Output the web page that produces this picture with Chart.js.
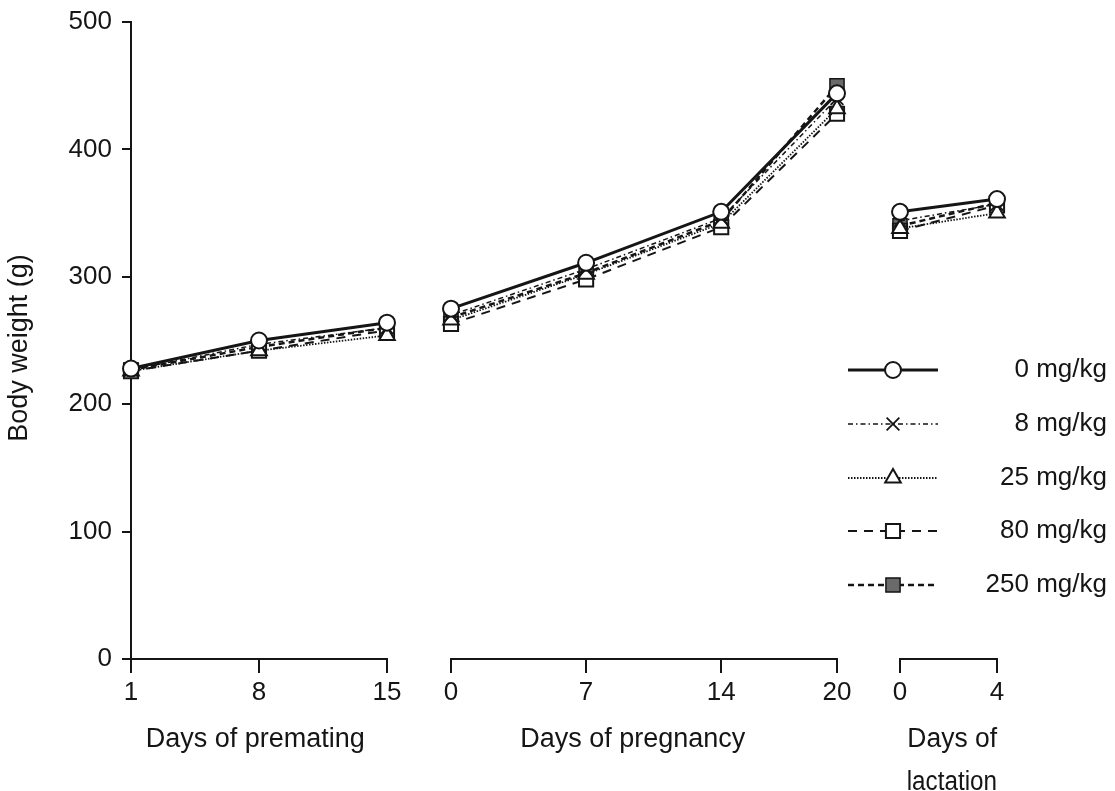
<!DOCTYPE html>
<html>
<head>
<meta charset="utf-8">
<script src="https://cdn.jsdelivr.net/npm/chart.js@4.4.1/dist/chart.umd.min.js"></script>
<style>
  html, body { margin: 0; padding: 0; background: #fff; }
  canvas { display: block; }
</style>
</head>
<body>
<canvas id="c" width="1115" height="791"></canvas>
<script>
// ---- data ----
const prematingDays = [1, 8, 15];
const pregnancyDays = [0, 7, 14, 20];
const lactationDays = [0, 4];
const yTicks = [0, 100, 200, 300, 400, 500];
const doseLabels = ['0 mg/kg', '8 mg/kg', '25 mg/kg', '80 mg/kg', '250 mg/kg'];
// body weight (g): premating d1,8,15 | pregnancy d0,7,14,20 | lactation d0,4
const bw0   = [228, 250, 264, 275, 311, 351, 444, 351, 361];
const bw8   = [227, 247, 260, 270, 306, 346, 440, 344, 357];
const bw25  = [226, 242, 254, 266, 302, 342, 432, 338, 350];
const bw80  = [226, 242, 258, 263, 298, 339, 428, 336, 356];
const bw250 = [227, 245, 260, 268, 303, 344, 450, 340, 358];
const yTitle = 'Body weight (g)';
const prematingTitle = 'Days of premating';
const pregnancyTitle = 'Days of pregnancy';
const lactationTitle = ['Days of', 'lactation'];

// ---- styles ----
const FONT = "'Liberation Sans', Arial, Helvetica, sans-serif";
const INK = '#151515';
const styles = [
  { dash: [], width: 3, point: 'circle', radius: 8, fill: '#ffffff', pbw: 2 },
  { dash: [5, 3, 1.5, 3], width: 1.5, point: 'crossRot', radius: 9, fill: INK, pbw: 1.8 },
  { dash: [1.5, 1.5], width: 1.8, point: 'triangle', radius: 9, fill: '#ffffff', pbw: 2 },
  { dash: [9, 7], width: 2, point: 'rect', radius: 10, fill: '#ffffff', pbw: 2 },
  { dash: [6, 4], width: 2.5, point: 'rect', radius: 10, fill: '#6a6a6a', pbw: 1.5 }
];

const series = [bw0, bw8, bw25, bw80, bw250];
const segments = [
  { id: 'xPre', days: prematingDays, start: 0 },
  { id: 'xPreg', days: pregnancyDays, start: prematingDays.length },
  { id: 'xLac', days: lactationDays, start: prematingDays.length + pregnancyDays.length }
];

const datasets = [];
series.forEach((vals, i) => {
  const s = styles[i];
  segments.forEach(seg => {
    datasets.push({
      label: doseLabels[i],
      xAxisID: seg.id,
      yAxisID: 'y',
      data: seg.days.map((d, k) => ({ x: d, y: vals[seg.start + k] })),
      borderColor: INK,
      borderWidth: s.width,
      borderDash: s.dash,
      pointStyle: s.point,
      pointRadius: s.radius,
      pointHoverRadius: s.radius,
      pointBackgroundColor: s.fill,
      pointBorderColor: INK,
      pointBorderWidth: s.pbw,
      tension: 0,
      fill: false,
      clip: false
    });
  });
});

const X_BOX_H = 132;
const TITLE_SIZE = 27;
const TITLE_LH = 43;
function xAxis(min, max, weight, days, title, padBottom) {
  return {
    type: 'linear', position: 'bottom', stack: 'xs', stackWeight: weight,
    min: min, max: max,
    afterBuildTicks: sc => { sc.ticks = days.map(v => ({ value: v })); },
    afterFit: sc => { sc.height = X_BOX_H; sc.paddingLeft = 0; sc.paddingRight = 0; },
    grid: { display: true, drawOnChartArea: false, drawTicks: true, tickLength: 14, color: INK, lineWidth: 2 },
    border: { display: true, color: INK, width: 2 },
    ticks: { font: { family: FONT, size: 26 }, color: INK, padding: 4, maxRotation: 0, autoSkip: false },
    title: { display: true, text: title, font: { family: FONT, size: TITLE_SIZE, lineHeight: TITLE_LH / TITLE_SIZE }, color: INK,
             padding: { top: 0, bottom: padBottom } }
  };
}
function spacer(weight) {
  return {
    type: 'linear', position: 'bottom', stack: 'xs', stackWeight: weight, min: 0, max: 1,
    grid: { display: false }, border: { display: false }, ticks: { display: false }, title: { display: false },
    afterFit: sc => { sc.height = X_BOX_H; sc.paddingLeft = 0; sc.paddingRight = 0; }
  };
}

function drawMarker(ctx, style, x, y, r) {
  ctx.beginPath();
  if (style === 'circle') {
    ctx.arc(x, y, r, 0, Math.PI * 2);
    ctx.fill(); ctx.stroke();
  } else if (style === 'rect') {
    const h = r * Math.SQRT1_2;
    ctx.rect(x - h, y - h, 2 * h, 2 * h);
    ctx.fill(); ctx.stroke();
  } else if (style === 'triangle') {
    for (let k = 0; k < 3; k++) {
      const a = k * 2 * Math.PI / 3;
      const px = x + Math.sin(a) * r, py = y - Math.cos(a) * r;
      if (k === 0) ctx.moveTo(px, py); else ctx.lineTo(px, py);
    }
    ctx.closePath();
    ctx.fill(); ctx.stroke();
  } else if (style === 'crossRot') {
    const h = r * Math.SQRT1_2;
    ctx.moveTo(x - h, y - h); ctx.lineTo(x + h, y + h);
    ctx.moveTo(x - h, y + h); ctx.lineTo(x + h, y - h);
    ctx.stroke();
  }
}

const legendPlugin = {
  id: 'doseLegend',
  afterDraw(chart) {
    const ctx = chart.ctx;
    const rows = [370, 424, 478, 531, 585];
    styles.forEach((s, i) => {
      const y = rows[i];
      ctx.save();
      ctx.strokeStyle = INK;
      ctx.lineWidth = s.width;
      ctx.setLineDash(s.dash);
      ctx.beginPath(); ctx.moveTo(848, y); ctx.lineTo(938, y); ctx.stroke();
      ctx.setLineDash([]);
      ctx.fillStyle = s.fill;
      ctx.lineWidth = s.pbw;
      drawMarker(ctx, s.point, 893, y, s.radius);
      ctx.fillStyle = INK;
      ctx.font = '26px ' + FONT;
      ctx.textAlign = 'right';
      ctx.textBaseline = 'middle';
      ctx.fillText(doseLabels[i], 1107, y);
      ctx.restore();
    });
  }
};

new Chart(document.getElementById('c'), {
  type: 'line',
  data: { datasets: datasets },
  options: {
    responsive: false,
    animation: false,
    devicePixelRatio: 1,
    layout: { padding: { top: 22, right: 118, bottom: 0, left: 0 } },
    plugins: { legend: { display: false }, tooltip: { enabled: false } },
    scales: {
      y: {
        type: 'linear', position: 'left', min: 0, max: 500,
        afterBuildTicks: sc => { sc.ticks = yTicks.map(v => ({ value: v })); },
        afterFit: sc => { sc.width = 131; sc.paddingTop = 0; sc.paddingBottom = 0; },
        grid: { display: true, drawOnChartArea: false, drawTicks: true, tickLength: 9, color: INK, lineWidth: 2 },
        border: { display: true, color: INK, width: 2 },
        ticks: { font: { family: FONT, size: 26 }, color: INK, padding: 10 },
        title: { display: true, text: yTitle + '  ', font: { family: FONT, size: TITLE_SIZE }, color: INK, padding: { top: 3, bottom: 0 } }
      },
      xPre: xAxis(1, 15, 256, prematingDays, prematingTitle + ' ', 29.5),
      gap1: spacer(64),
      xPreg: xAxis(0, 20, 386, pregnancyDays, pregnancyTitle + '   ', 29.5),
      gap2: spacer(63),
      xLac: xAxis(0, 4, 97, lactationDays, lactationTitle.map(t => ' ' + t), -13.5)
    }
  },
  plugins: [legendPlugin]
});
</script>
</body>
</html>
